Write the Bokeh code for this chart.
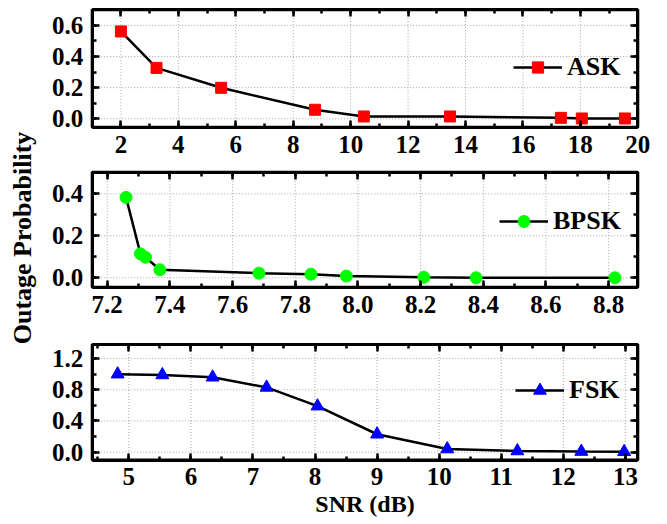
import math
from bokeh.plotting import figure
from bokeh.models import (Range1d, FixedTicker, PrintfTickFormatter, LinearAxis,
                          Legend, LegendItem)
from bokeh.core.properties import value
from bokeh.embed import file_html
from bokeh.resources import INLINE

# ---------------- data ----------------
ASK_SNR = [2.0, 3.24, 5.49, 8.76, 10.46, 13.46, 17.32, 18.05, 19.55]
ASK_OP = [0.561, 0.327, 0.199, 0.058, 0.015, 0.015, 0.006, 0.002, 0.002]

BPSK_SNR = [7.26, 7.306, 7.322, 7.368, 7.684, 7.85, 7.963, 8.21, 8.377, 8.82]
BPSK_OP = [0.383, 0.114, 0.098, 0.038, 0.022, 0.017, 0.008, 0.002, 0.0, 0.0]

FSK_SNR = [4.82, 5.54, 6.35, 7.22, 8.04, 9.0, 10.13, 11.26, 12.29, 12.98]
FSK_OP = [1.0, 0.99, 0.96, 0.83, 0.59, 0.23, 0.04, 0.015, 0.008, 0.005]

ASK_XTICKS = [2, 4, 6, 8, 10, 12, 14, 16, 18, 20]
ASK_XMINOR = list(range(1, 21))
ASK_YTICKS = [0.0, 0.2, 0.4, 0.6]
ASK_YMINOR = [0.0, 0.1, 0.2, 0.3, 0.4, 0.5, 0.6, 0.7]

BPSK_XTICKS = [7.2, 7.4, 7.6, 7.8, 8.0, 8.2, 8.4, 8.6, 8.8]
BPSK_XMINOR = [7.2, 7.3, 7.4, 7.5, 7.6, 7.7, 7.8, 7.9, 8.0, 8.1, 8.2, 8.3, 8.4, 8.5, 8.6, 8.7, 8.8]
BPSK_YTICKS = [0.0, 0.2, 0.4]
BPSK_YMINOR = [0.0, 0.1, 0.2, 0.3, 0.4, 0.5]

FSK_XTICKS = [5, 6, 7, 8, 9, 10, 11, 12, 13]
FSK_XMINOR = [4.5, 5, 5.5, 6, 6.5, 7, 7.5, 8, 8.5, 9, 9.5, 10, 10.5, 11, 11.5, 12, 12.5, 13]
FSK_YTICKS = [0.0, 0.4, 0.8, 1.2]
FSK_YMINOR = [0.0, 0.2, 0.4, 0.6, 0.8, 1.0, 1.2]

# axis extents of each panel
ASK_XR, ASK_YR = (1.0, 20.0), (-0.054, 0.70)
BPSK_XR, BPSK_YR = (7.152, 8.893), (-0.045, 0.503)
FSK_XR, FSK_YR = (4.41, 13.2), (-0.10, 1.38)

X_LABEL = "SNR (dB)"
Y_LABEL = "Outage Probability"

FONT = "Liberation Serif"

# ---------------- layout (canvas pixels) ----------------
W, H = 660, 519
FRAME_L, FRAME_R = 91.7, 637.3
PANELS_TB = [(9.3, 126.7), (171.7, 286.7), (344.0, 459.5)]
X_STANDOFF = [9, 9, 8]


def xrange_for(lo, hi):
    d = (hi - lo) / (FRAME_R - FRAME_L)
    return Range1d(start=lo - FRAME_L * d, end=hi + (W - FRAME_R) * d)


def yrange_for(lo, hi, top, bot):
    d = (hi - lo) / (bot - top)
    return Range1d(start=lo - (H - bot) * d, end=hi + top * d)


p = figure(width=W, height=H, x_range=Range1d(0, W), y_range=Range1d(H, 0),
           x_axis_type=None, y_axis_type=None, min_border=0,
           output_backend="svg", toolbar_location=None)
p.outline_line_color = None
p.background_fill_color = "white"
p.border_fill_color = "white"
p.xgrid.visible = False
p.ygrid.visible = False


def style(ax, labels, standoff):
    ax.major_tick_in = 7
    ax.major_tick_out = 0
    ax.minor_tick_in = 4
    ax.minor_tick_out = 0
    ax.major_tick_line_width = 2.5
    ax.minor_tick_line_width = 2.5
    ax.major_tick_line_color = "black"
    ax.minor_tick_line_color = "black"
    ax.axis_line_color = "black"
    ax.axis_line_width = 3
    ax.major_label_text_font = FONT
    ax.major_label_text_font_style = "bold"
    ax.major_label_text_font_size = "25px"
    ax.major_label_standoff = standoff
    ax.major_label_text_color = "black" if labels else None


def panel(idx, xs, ys, xr, yr, xt, xm, yt, ym, xfmt, marker, color, msize, gh,
          label, leg_left, leg_mid):
    top, bot = PANELS_TB[idx]
    xn, yn = "x%d" % idx, "y%d" % idx
    p.extra_x_ranges[xn] = xrange_for(*xr)
    p.extra_y_ranges[yn] = yrange_for(yr[0], yr[1], top, bot)

    kw = dict(x_range_name=xn, y_range_name=yn)
    # dotted grid at major ticks
    p.segment(x0=xt, y0=[yr[0]] * len(xt), x1=xt, y1=[yr[1]] * len(xt),
              line_color="#a8a8a8", line_dash="1 2", line_width=1, **kw)
    p.segment(x0=[xr[0]] * len(yt), y0=yt, x1=[xr[1]] * len(yt), y1=yt,
              line_color="#a8a8a8", line_dash="1 2", line_width=1, **kw)

    xtk = FixedTicker(ticks=xt, minor_ticks=xm)
    ytk = FixedTicker(ticks=yt, minor_ticks=ym)
    xf = PrintfTickFormatter(format=xfmt)
    yf = PrintfTickFormatter(format="%.1f")

    b = LinearAxis(ticker=xtk, formatter=xf, fixed_location=yr[0], bounds=xr, **kw)
    style(b, True, X_STANDOFF[idx])
    p.add_layout(b, "below")
    a = LinearAxis(ticker=xtk, formatter=xf, fixed_location=yr[1], bounds=xr, **kw)
    style(a, False, 0)
    p.add_layout(a, "above")
    l = LinearAxis(ticker=ytk, formatter=yf, fixed_location=xr[0], bounds=yr, **kw)
    style(l, True, 9)
    p.add_layout(l, "left")
    r = LinearAxis(ticker=ytk, formatter=yf, fixed_location=xr[1], bounds=yr, **kw)
    style(r, False, 0)
    p.add_layout(r, "right")

    lr = p.line(xs, ys, line_color="black", line_width=2.5, **kw)
    sr = p.scatter(xs, ys, marker=marker, size=msize, fill_color=color,
                   line_color=color, **kw)

    item_h = 30
    leg = Legend(items=[LegendItem(label=label, renderers=[lr, sr])],
                 location=(leg_left, H - (leg_mid + item_h / 2)))
    leg.background_fill_alpha = 0
    leg.border_line_color = None
    leg.padding = 0
    leg.margin = 0
    leg.spacing = 0
    leg.glyph_width = 49
    leg.glyph_height = gh
    leg.label_height = item_h
    leg.label_standoff = 5
    leg.label_text_font = FONT
    leg.label_text_font_style = "bold"
    leg.label_text_font_size = "26px"
    leg.label_text_color = "black"
    p.add_layout(leg)


panel(0, ASK_SNR, ASK_OP, ASK_XR, ASK_YR, ASK_XTICKS, ASK_XMINOR, ASK_YTICKS,
      ASK_YMINOR, "%d", "square", "#ff0000", 11, 28, "ASK", 513, 66.7)
panel(1, BPSK_SNR, BPSK_OP, BPSK_XR, BPSK_YR, BPSK_XTICKS, BPSK_XMINOR, BPSK_YTICKS,
      BPSK_YMINOR, "%.1f", "circle", "#00ff00", 12, 30, "BPSK", 499, 221)
panel(2, FSK_SNR, FSK_OP, FSK_XR, FSK_YR, FSK_XTICKS, FSK_XMINOR, FSK_YTICKS,
      FSK_YMINOR, "%d", "triangle", "#0000ff", 13, 32, "FSK", 515, 391)

# frames of the three panels
for i, (xr, yr) in enumerate([(ASK_XR, ASK_YR), (BPSK_XR, BPSK_YR), (FSK_XR, FSK_YR)]):
    p.quad(left=[xr[0]], right=[xr[1]], bottom=[yr[0]], top=[yr[1]],
           fill_color=None, line_color="black", line_width=3,
           x_range_name="x%d" % i, y_range_name="y%d" % i)

# axis titles
p.text(x=[22], y=[237.5], text=[Y_LABEL], angle=math.pi / 2,
       text_align="center", text_baseline="middle",
       text_font=value(FONT), text_font_style="bold", text_font_size="26px",
       text_color="black")
p.text(x=[(FRAME_L + FRAME_R) / 2], y=[503], text=[X_LABEL],
       text_align="center", text_baseline="middle",
       text_font=value(FONT), text_font_style="bold", text_font_size="24px",
       text_color="black")

open("out.html", "w").write(file_html(p, INLINE))
